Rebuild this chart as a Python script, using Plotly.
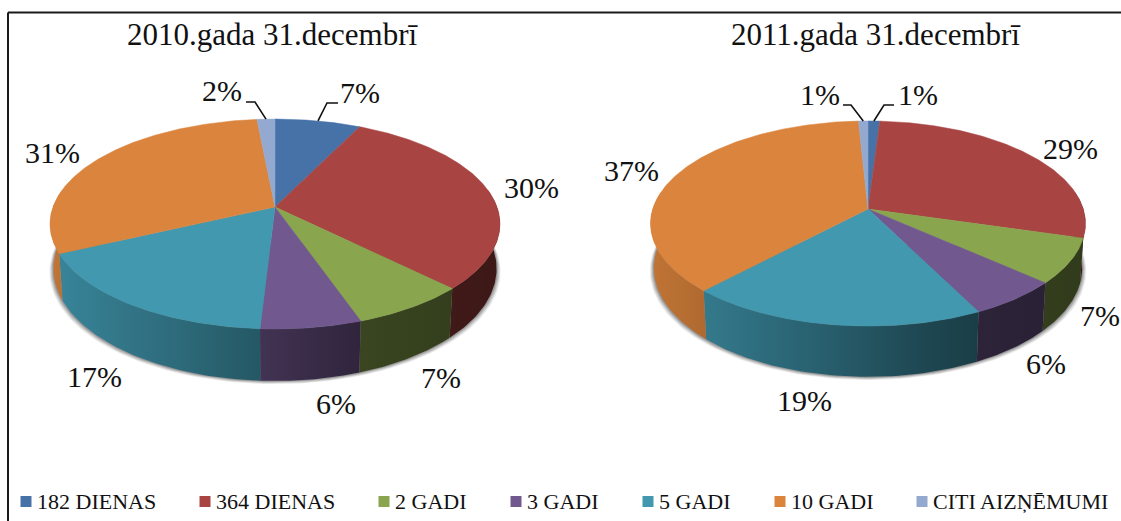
import numpy as np
import plotly.graph_objects as go

categories = ["182 DIENAS", "364 DIENAS", "2 GADI", "3 GADI", "5 GADI", "10 GADI", "CITI AIZŅĒMUMI"]
values_2010 = [7.2, 30.3, 7.2, 6.2, 17.1, 30.5, 1.5]
values_2011 = [1.0, 28.5, 7.1, 6.0, 19.4, 37.2, 0.8]
labels_2010 = ["7%", "30%", "7%", "6%", "17%", "31%", "2%"]
labels_2011 = ["1%", "29%", "7%", "6%", "19%", "37%", "1%"]
title_2010 = "2010.gada 31.decembrī"
title_2011 = "2011.gada 31.decembrī"

colors = ["#4672A8", "#A84442", "#89A54E", "#71588F", "#4198AF", "#DB843D", "#93A9CF"]

# figure uses a pixel-sized data space: perspective pie geometry
geo_2010 = dict(cx=275, cy=207, A=222, B=102.2, k=0.162, D=43.6)
geo_2011 = dict(cx=868, cy=209, A=215.3, B=100.5, k=0.1415, D=43.6)

label_pos_2010 = [(360, 92.5), (531, 187.5), (441, 377.5), (336, 403.5), (94, 376.5), (52, 152.5), (222, 90.5)]
label_pos_2011 = [(918, 94.5), (1070, 148.5), (1100, 315.5), (1046, 363.5), (804, 400.5), (631, 170.5), (820, 94.5)]
leaders_2010 = {0: [(338, 103), (327, 103)], 6: [(246, 102), (255, 102)]}
leaders_2011 = {0: [(894, 105), (884, 105)], 6: [(843, 105), (851, 105)]}
legend_x = [26, 205, 384, 516, 648, 780, 922]
legend_y = 501.5
FONT = "Liberation Serif"


def top_point(g, deg):
    t = np.radians(deg)
    u, v = np.sin(t), np.cos(t)
    w = 1 + g["k"] * v
    return g["cx"] + g["A"] * u / w, g["cy"] - g["B"] * v / w


def bottom_point(g, deg):
    t = np.radians(deg)
    u, v = np.sin(t), np.cos(t)
    w = 1 + g["k"] * v
    return g["cx"] + 0.985 * g["A"] * u / w, g["cy"] - g["B"] * v / w + g["D"] / w


def shade(hex_color, t):
    m = np.interp(t, [-1.0, -0.06, 0.4, 1.0], [0.88, 0.58, 0.42, 0.36])
    r, g, b = (int(hex_color[i:i + 2], 16) for i in (1, 3, 5))
    return f"rgb({int(r * m)},{int(g * m)},{int(b * m)})"


fig = go.Figure()


def add_pie(values, g):
    edges = np.concatenate([[0], np.cumsum(values)]) / np.sum(values) * 360
    # soft shadow below the rim
    th = np.linspace(85, 275, 120)
    bx, by = bottom_point(g, th)
    for off, alpha in [(4, 0.10), (3, 0.14), (2, 0.18), (1, 0.25)]:
        sx = g["cx"] + (bx - g["cx"]) * (1 + off / g["A"])
        fig.add_trace(go.Scatter(x=sx, y=by + off * 0.8, mode="lines", fill="toself",
                                 fillcolor=f"rgba(60,60,60,{alpha})", line=dict(width=0),
                                 hoverinfo="skip"))
    # rim sides
    for i in range(len(values)):
        a, b = max(edges[i], 80), min(edges[i + 1], 280)
        if a >= b:
            continue
        th = np.linspace(a, b, 60)
        tx, ty = top_point(g, th)
        bx, by = bottom_point(g, th)
        xs = np.concatenate([tx, bx[::-1], tx[:1]])
        ys = np.concatenate([ty, by[::-1], ty[:1]])
        x0, x1 = xs.min(), xs.max()
        ts = np.linspace(x0, x1, 6)
        scale = [[j / 5, shade(colors[i], (ts[j] - g["cx"]) / g["A"])] for j in range(6)]
        fig.add_trace(go.Scatter(x=xs, y=ys, mode="lines", fill="toself", line=dict(width=0),
                                 fillgradient=dict(type="horizontal", colorscale=scale,
                                                   start=x0, stop=x1),
                                 hoverinfo="skip"))
    # top faces
    for i in range(len(values)):
        th = np.linspace(edges[i], edges[i + 1], max(8, int((edges[i + 1] - edges[i]) * 2)))
        tx, ty = top_point(g, th)
        xs = np.concatenate([[g["cx"]], tx, [g["cx"]]])
        ys = np.concatenate([[g["cy"]], ty, [g["cy"]]])
        fig.add_trace(go.Scatter(x=xs, y=ys, mode="lines", fill="toself", fillcolor=colors[i],
                                 line=dict(width=0.5, color=colors[i]), name=categories[i],
                                 hoverinfo="name"))
    return edges


def add_labels(edges, g, labels, positions, leaders):
    for i, (lab, (x, y)) in enumerate(zip(labels, positions)):
        fig.add_annotation(x=x, y=y, text=lab, showarrow=False, xanchor="center", yanchor="middle",
                           font=dict(family=FONT, size=30, color="#111111"))
    for i, elbow in leaders.items():
        px, py = top_point(g, (edges[i] + edges[i + 1]) / 2)
        fig.add_trace(go.Scatter(x=[p[0] for p in elbow] + [px], y=[p[1] for p in elbow] + [py],
                                 mode="lines", line=dict(color="#111111", width=1.6),
                                 hoverinfo="skip"))


e10 = add_pie(values_2010, geo_2010)
e11 = add_pie(values_2011, geo_2011)
add_labels(e10, geo_2010, labels_2010, label_pos_2010, leaders_2010)
add_labels(e11, geo_2011, labels_2011, label_pos_2011, leaders_2011)

for txt, x in [(title_2010, 272.5), (title_2011, 875.5)]:
    fig.add_annotation(x=x, y=34, text=txt, showarrow=False, xanchor="center", yanchor="middle",
                       font=dict(family=FONT, size=31, color="#111111"))

for i, (cat, x) in enumerate(zip(categories, legend_x)):
    fig.add_trace(go.Scatter(x=[x], y=[legend_y], mode="markers", hoverinfo="skip",
                             marker=dict(symbol="square", size=11, color=colors[i])))
    fig.add_annotation(x=x + 11, y=legend_y, text=cat, showarrow=False, xanchor="left",
                       yanchor="middle", xshift=-2,
                       font=dict(family=FONT, size=22, color="#111111"))

fig.add_shape(type="line", x0=8, x1=8, y0=12.5, y1=521, line=dict(color="#1a1a1a", width=2))
fig.add_shape(type="line", x0=8, x1=1121, y0=12.5, y1=12.5, line=dict(color="#1a1a1a", width=2))

fig.update_layout(width=1121, height=521, margin=dict(l=0, r=0, t=0, b=0), showlegend=False,
                  paper_bgcolor="white", plot_bgcolor="white",
                  xaxis=dict(range=[0, 1121], visible=False, fixedrange=True),
                  yaxis=dict(range=[521, 0], visible=False, fixedrange=True))
fig.write_html("out.html", config=dict(displayModeBar=False),
               post_script="document.body.style.margin='0';document.body.style.overflow='hidden';")
